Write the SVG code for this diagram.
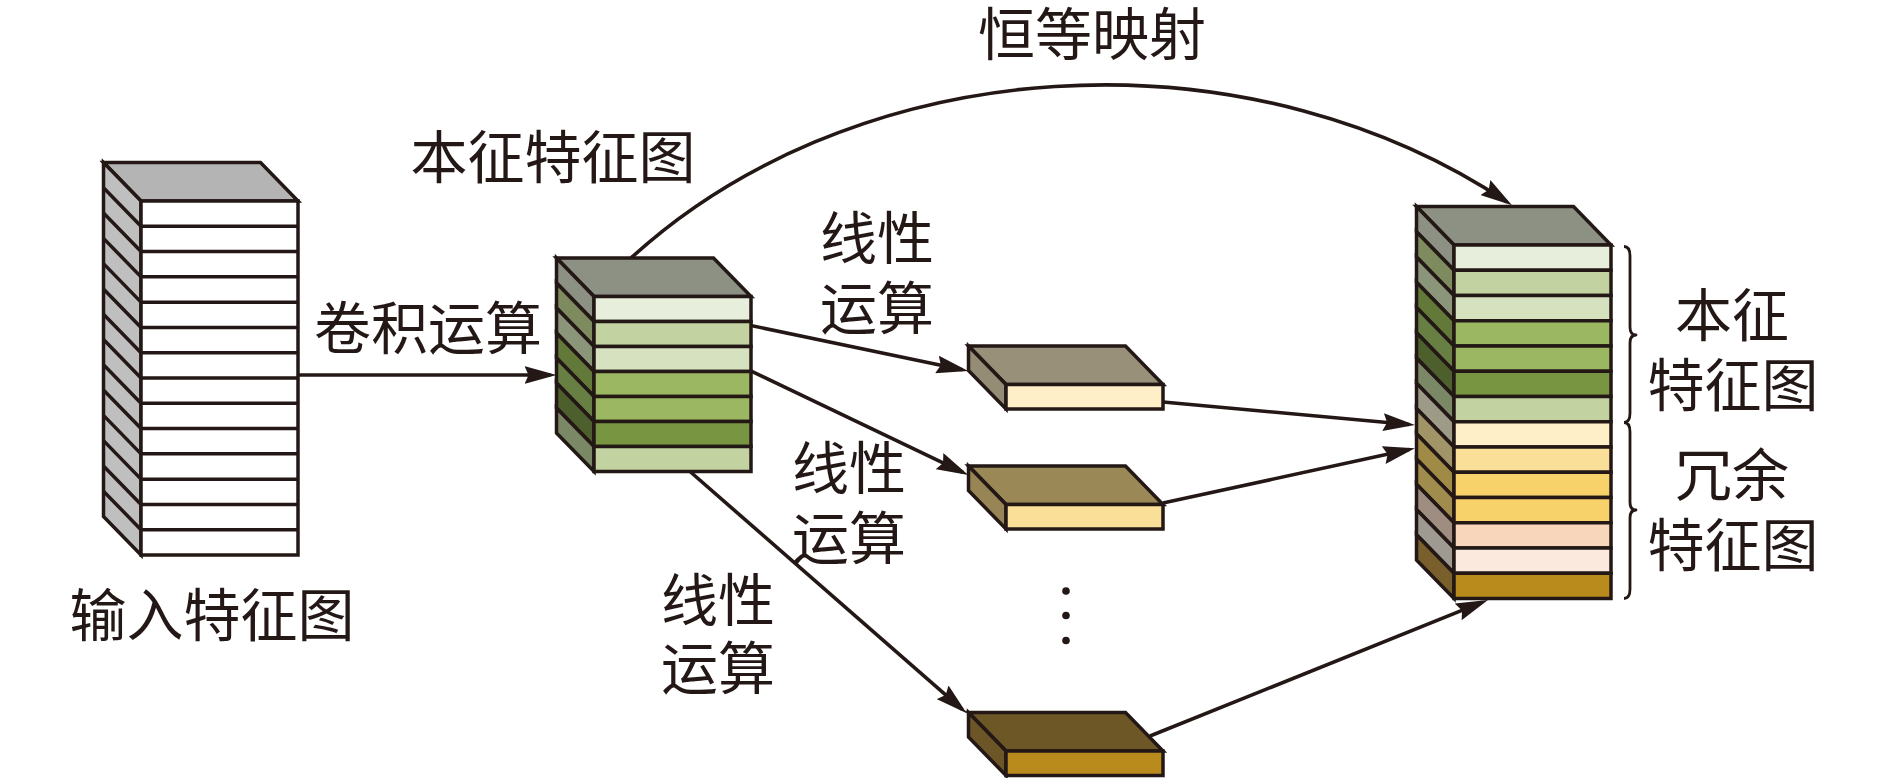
<svg xmlns="http://www.w3.org/2000/svg" width="1890" height="778" viewBox="0 0 1890 778">
<style>
.o{stroke:#231815;stroke-width:3.5;stroke-linejoin:miter;stroke-miterlimit:8}
.ln{fill:none;stroke:#231815;stroke-width:3.5}
.c{fill:none;stroke:#231815;stroke-width:3.6;marker-end:url(#ah)}
.br{fill:none;stroke:#231815;stroke-width:2.8;stroke-linejoin:round}
text{font-family:"Noto Sans CJK SC","Noto Sans CJK JP",sans-serif;font-size:57px;fill:#231815;text-anchor:middle}
</style>
<defs>
<marker id="ah" viewBox="0 0 32 18" refX="26" refY="9" markerWidth="32" markerHeight="18" markerUnits="userSpaceOnUse" orient="auto">
<path d="M0,0 L32,9 L0,18 L4,9 Z" fill="#231815"/>
</marker>
</defs>
<rect width="1890" height="778" fill="#ffffff"/>

<g id="connectors">
<path class="c" d="M298,375 L550.5,375"/>
<path class="c" d="M731.7,321.5 L962.4,369.8"/>
<path class="c" d="M700,346.5 L962.9,472.4"/>
<path class="c" d="M690,471.5 L962.2,709.4"/>
<path class="c" d="M1163,402 L1409,424.5"/>
<path class="c" d="M1163,503 L1409.1,449.6"/>
<path class="c" d="M1150,736 L1482.4,602.2"/>
<path class="c" d="M631,258 A633,514 0 0,1 1507,202"/>
</g>

<g id="input-stack">
<polygon class="o" fill="#b4b4b4" points="103.5,162.5 260.5,162.5 298,201 141,201"/>
<polygon class="o" fill="#bfbfbf" points="103.5,162.5 141,201 141,555 103.5,516.5"/>
<rect class="o" fill="#ffffff" x="141" y="201" width="157" height="354"/>
<path class="ln" d="M141,226.29H298M141,251.57H298M141,276.86H298M141,302.14H298M141,327.43H298M141,352.71H298M141,378H298M141,403.29H298M141,428.57H298M141,453.86H298M141,479.14H298M141,504.43H298M141,529.71H298"/>
<path class="ln" d="M103.5,187.79L141,226.29M103.5,213.07L141,251.57M103.5,238.36L141,276.86M103.5,263.64L141,302.14M103.5,288.93L141,327.43M103.5,314.21L141,352.71M103.5,339.5L141,378M103.5,364.79L141,403.29M103.5,390.07L141,428.57M103.5,415.36L141,453.86M103.5,440.64L141,479.14M103.5,465.93L141,504.43M103.5,491.21L141,529.71"/>
</g>

<g id="intrinsic-cube">
<polygon class="o" fill="#8c9184" points="556.5,258 713.5,258 751,296.5 594,296.5"/>
<polygon class="o" fill="#8c9184" points="556.5,258 594,296.5 594,321.5 556.5,283"/>
<polygon class="o" fill="#7d8b5f" points="556.5,283 594,321.5 594,346.5 556.5,308"/>
<polygon class="o" fill="#8a9579" points="556.5,308 594,346.5 594,371.5 556.5,333"/>
<polygon class="o" fill="#627939" points="556.5,333 594,371.5 594,396.5 556.5,358"/>
<polygon class="o" fill="#687f44" points="556.5,358 594,396.5 594,421.5 556.5,383"/>
<polygon class="o" fill="#4d5f2c" points="556.5,383 594,421.5 594,446.5 556.5,408"/>
<polygon class="o" fill="#7b8866" points="556.5,408 594,446.5 594,471.5 556.5,433"/>
<rect class="o" fill="#e7eedc" x="594" y="296.5" width="157" height="25"/>
<rect class="o" fill="#c2d3a1" x="594" y="321.5" width="157" height="25"/>
<rect class="o" fill="#d6e1c0" x="594" y="346.5" width="157" height="25"/>
<rect class="o" fill="#9bb762" x="594" y="371.5" width="157" height="25"/>
<rect class="o" fill="#9bb762" x="594" y="396.5" width="157" height="25"/>
<rect class="o" fill="#789642" x="594" y="421.5" width="157" height="25"/>
<rect class="o" fill="#c2d3a1" x="594" y="446.5" width="157" height="25"/>
</g>

<g id="ghost-1">
<polygon class="o" fill="#999079" points="968.5,346 1125.5,346 1163,384.5 1006,384.5"/>
<polygon class="o" fill="#958c75" points="968.5,346 1006,384.5 1006,409 968.5,370.5"/>
<rect class="o" fill="#feefc9" x="1006" y="384.5" width="157" height="24.5"/>
</g>
<g id="ghost-2">
<polygon class="o" fill="#9b8857" points="968.5,466 1125.5,466 1163,504.5 1006,504.5"/>
<polygon class="o" fill="#978555" points="968.5,466 1006,504.5 1006,529 968.5,490.5"/>
<rect class="o" fill="#f9df98" x="1006" y="504.5" width="157" height="24.5"/>
</g>
<g id="ellipsis">
<circle cx="1066" cy="591" r="3.8" fill="#231815"/>
<circle cx="1066" cy="615.5" r="3.8" fill="#231815"/>
<circle cx="1066" cy="640.5" r="3.8" fill="#231815"/>
</g>
<g id="ghost-n">
<polygon class="o" fill="#6e5727" points="968.5,712.5 1125.5,712.5 1163,751 1006,751"/>
<polygon class="o" fill="#6c5526" points="968.5,712.5 1006,751 1006,775.5 968.5,737"/>
<rect class="o" fill="#b98b1c" x="1006" y="751" width="157" height="24.5"/>
</g>

<g id="output-stack">
<polygon class="o" fill="#8c9184" points="1416.5,206.5 1573.5,206.5 1611,245 1454,245"/>
<polygon class="o" fill="#8c9184" points="1416.5,206.5 1454,245 1454,270.25 1416.5,231.75"/>
<polygon class="o" fill="#7d8b5f" points="1416.5,231.75 1454,270.25 1454,295.5 1416.5,257"/>
<polygon class="o" fill="#8a9579" points="1416.5,257 1454,295.5 1454,320.75 1416.5,282.25"/>
<polygon class="o" fill="#627939" points="1416.5,282.25 1454,320.75 1454,346 1416.5,307.5"/>
<polygon class="o" fill="#687f44" points="1416.5,307.5 1454,346 1454,371.25 1416.5,332.75"/>
<polygon class="o" fill="#4d5f2c" points="1416.5,332.75 1454,371.25 1454,396.5 1416.5,358"/>
<polygon class="o" fill="#7b8866" points="1416.5,358 1454,396.5 1454,421.75 1416.5,383.25"/>
<polygon class="o" fill="#9d9a88" points="1416.5,383.25 1454,421.75 1454,447 1416.5,408.5"/>
<polygon class="o" fill="#a19467" points="1416.5,408.5 1454,447 1454,472.25 1416.5,433.75"/>
<polygon class="o" fill="#a08b46" points="1416.5,433.75 1454,472.25 1454,497.5 1416.5,459"/>
<polygon class="o" fill="#a08c4c" points="1416.5,459 1454,497.5 1454,522.75 1416.5,484.25"/>
<polygon class="o" fill="#9e8d80" points="1416.5,484.25 1454,522.75 1454,548 1416.5,509.5"/>
<polygon class="o" fill="#9e9a92" points="1416.5,509.5 1454,548 1454,573.25 1416.5,534.75"/>
<polygon class="o" fill="#795f2c" points="1416.5,534.75 1454,573.25 1454,598.5 1416.5,560"/>
<rect class="o" fill="#e7eedc" x="1454" y="245" width="157" height="25.25"/>
<rect class="o" fill="#c2d3a1" x="1454" y="270.25" width="157" height="25.25"/>
<rect class="o" fill="#d6e1c0" x="1454" y="295.5" width="157" height="25.25"/>
<rect class="o" fill="#9bb762" x="1454" y="320.75" width="157" height="25.25"/>
<rect class="o" fill="#9bb762" x="1454" y="346" width="157" height="25.25"/>
<rect class="o" fill="#789642" x="1454" y="371.25" width="157" height="25.25"/>
<rect class="o" fill="#c2d3a1" x="1454" y="396.5" width="157" height="25.25"/>
<rect class="o" fill="#feefc9" x="1454" y="421.75" width="157" height="25.25"/>
<rect class="o" fill="#f9df98" x="1454" y="447" width="157" height="25.25"/>
<rect class="o" fill="#f7d16a" x="1454" y="472.25" width="157" height="25.25"/>
<rect class="o" fill="#f7d16a" x="1454" y="497.5" width="157" height="25.25"/>
<rect class="o" fill="#f7d6bc" x="1454" y="522.75" width="157" height="25.25"/>
<rect class="o" fill="#fbe9dd" x="1454" y="548" width="157" height="25.25"/>
<rect class="o" fill="#b98b1c" x="1454" y="573.25" width="157" height="25.25"/>
</g>

<g id="braces">
<path class="br" d="M1624,246.5 Q1630,246.5 1630,256 L1630,327 Q1630,335 1636,335 Q1630,335 1630,343 L1630,413 Q1630,422.5 1624,422.5"/>
<path class="br" d="M1624,422.5 Q1630,422.5 1630,432 L1630,502 Q1630,510 1636,510 Q1630,510 1630,518 L1630,589 Q1630,598.5 1624,598.5"/>
</g>

<g id="labels">
<text x="1092" y="55">恒等映射</text>
<text x="553" y="178">本征特征图</text>
<text x="428" y="349">卷积运算</text>
<text x="212" y="636">输入特征图</text>
<text x="877" y="259">线性<tspan x="877" dy="70">运算</tspan></text>
<text x="849" y="489">线性<tspan x="849" dy="70">运算</tspan></text>
<text x="718" y="621">线性<tspan x="718" dy="68">运算</tspan></text>
<text x="1732" y="336">本征<tspan x="1733" dy="70">特征图</tspan></text>
<text x="1732" y="496">冗余<tspan x="1733" dy="70">特征图</tspan></text>
</g>
</svg>
